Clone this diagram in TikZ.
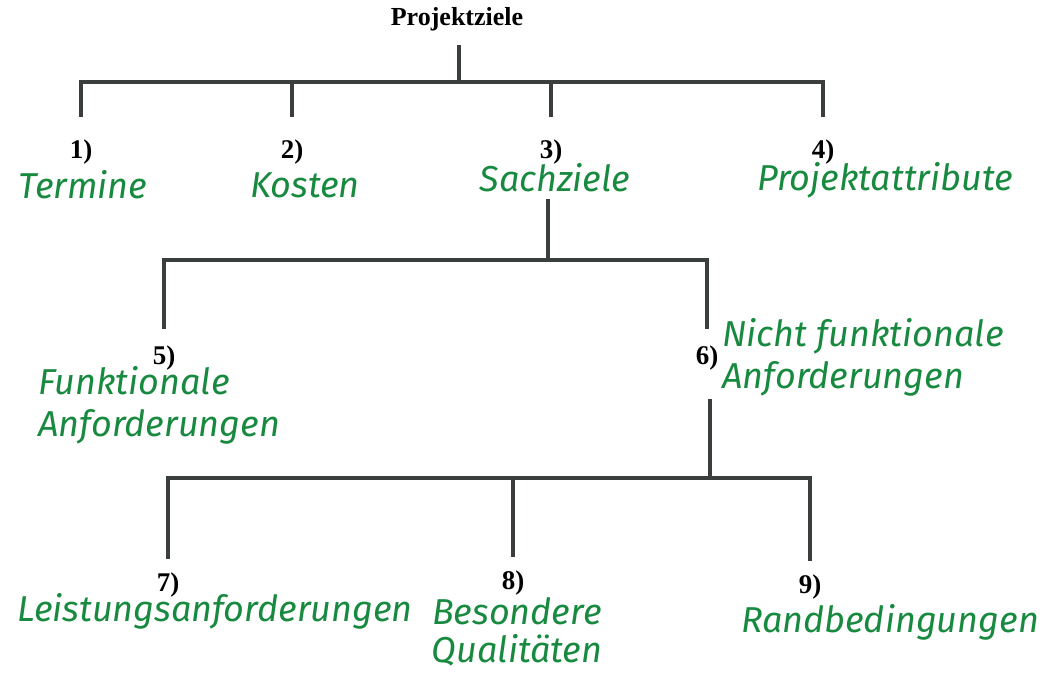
\documentclass[tikz,border=0pt]{standalone}
\usepackage{fontspec}
\setmainfont{Liberation Serif}
\newfontfamily\handfont{Fira Sans}
\usetikzlibrary{calc,positioning}
\definecolor{stift}{RGB}{24,138,64}
\definecolor{balken}{RGB}{58,62,60}

\begin{document}
\begin{tikzpicture}[x=0.5pt, y=-0.5pt]
    \tikzset{Nummer/.style = {font=\bfseries\fontsize{13.5}{15}\selectfont, inner sep=0pt},
      Hand/.style = {font=\handfont\itshape\fontsize{18}{21}\selectfont, text=stift, inner sep=0pt},
      Ast/.style = {draw=balken, line width=2.4pt, line join=miter}}
    \useasboundingbox (0,0) rectangle (1048,674);
    \node[Nummer, font=\bfseries\fontsize{13}{15}\selectfont] (pz) at (457,19) {Projektziele};
    % Ebene 1
    \node[Nummer] (n1) at (81,152) {1)};
    \node[Nummer] (n2) at (292,152) {2)};
    \node[Nummer] (n3) at (551,152) {3)};
    \node[Nummer] (n4) at (823,152) {4)};
    \node[Hand] (t1) at (83,185) {Termine};
    \node[Hand] (t2) at (305,185) {Kosten};
    \node[Hand] (t3) at (555,178) {Sachziele};
    \node[Hand] (t4) at (885,180) {Projektattribute};
    % Ebene 2
    \node[Nummer] (n5) at (164,358) {5)};
    \node[Nummer] (n6) at (707,358) {6)};
    \node[Hand, anchor=west, align=left] (t5) at (38,405) {Funktionale\\Anforderungen};
    \node[Hand, anchor=west, align=left] (t6) at (722,357) {Nicht funktionale\\Anforderungen};
    % Ebene 3
    \node[Nummer] (n7) at (168,585) {7)};
    \node[Nummer] (n8) at (513,583) {8)};
    \node[Nummer] (n9) at (810,587) {9)};
    \node[Hand] (t7) at (215,611) {Leistungsanforderungen};
    \node[Hand, align=center, font=\handfont\itshape\fontsize{18}{19}\selectfont] (t8) at (517,632) {Besondere\\Qualitäten};
    \node[Hand] (t9) at (890,622) {Randbedingungen};

    \coordinate (j1) at (459,82);
    \coordinate (j2) at (548,260);
    \coordinate (j3) at (710,478);
    \draw[Ast, shorten <=7pt] (j1 |- pz.south) -- (j1);
    \foreach \n in {n1,n2,n3,n4}
      \draw[Ast, shorten >=11pt] (j1) -| (\n.north);
    \draw[Ast, shorten <=3pt] (j2 |- t3.south) -- (j2);
    \foreach \n in {n5,n6}
      \draw[Ast, shorten >=8pt] (j2) -| (\n.north);
    \draw[Ast, shorten <=14pt] (j3 |- n6.south) -- (j3);
    \foreach \n in {n7,n8,n9}
      \draw[Ast, shorten >=6.5pt] (j3) -| (\n.north);
\end{tikzpicture}
\end{document}
